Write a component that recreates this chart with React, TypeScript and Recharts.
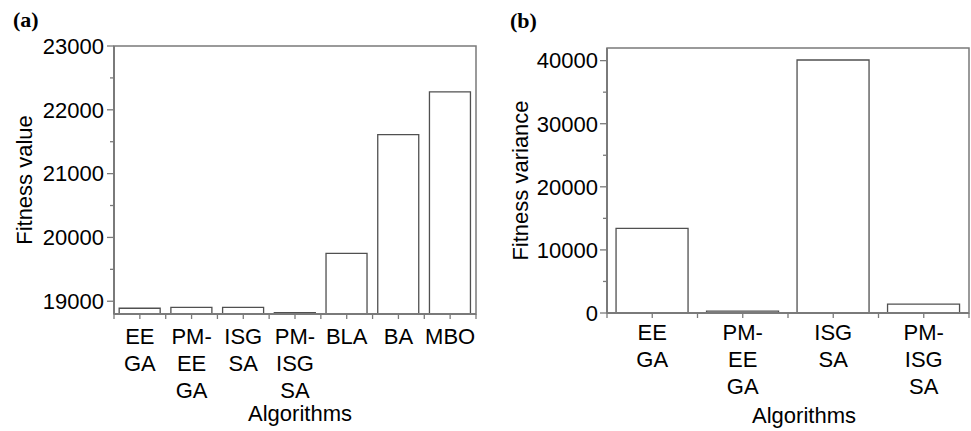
import React from 'react';
import { BarChart, Bar, XAxis, YAxis, ReferenceArea } from 'recharts';

// ---- data ----
const categoriesA = ['EEGA', 'PM-EEGA', 'ISGSA', 'PM-ISGSA', 'BLA', 'BA', 'MBO'];
const tickLinesA = [['EE', 'GA'], ['PM-', 'EE', 'GA'], ['ISG', 'SA'], ['PM-', 'ISG', 'SA'], ['BLA'], ['BA'], ['MBO']];
const fitnessValue = [18890, 18905, 18905, 18820, 19750, 21610, 22280];
const yTicksA = [19000, 19500, 20000, 20500, 21000, 21500, 22000, 22500, 23000];
const yDomainA = [18800, 23000];

const categoriesB = ['EEGA', 'PM-EEGA', 'ISGSA', 'PM-ISGSA'];
const tickLinesB = [['EE', 'GA'], ['PM-', 'EE', 'GA'], ['ISG', 'SA'], ['PM-', 'ISG', 'SA']];
const fitnessVariance = [13400, 300, 40100, 1400];
const yTicksB = [0, 5000, 10000, 15000, 20000, 25000, 30000, 35000, 40000];
const yDomainB = [0, 42000];

const dataA = categoriesA.map((c, i) => ({ name: c, value: fitnessValue[i] }));
const dataB = categoriesB.map((c, i) => ({ name: c, value: fitnessVariance[i] }));

// ---- styles ----
const FONT = '"Liberation Sans", Arial, sans-serif';
const TEXT = '#000';
const AXIS = '#7a7a7a';
const BAR_STROKE = '#505050';

const YTick = (props: any) => {
  const { x, y, payload, major, gap } = props;
  const isMajor = payload.value % major === 0;
  return (
    <g>
      <line x1={x} y1={y} x2={x - (isMajor ? 7 : 4)} y2={y} stroke={AXIS} strokeWidth={1.3} />
      {isMajor && (
        <text x={x - gap} y={y} dy="0.355em" textAnchor="end" fontSize={22} fontFamily={FONT} fill={TEXT}>
          {payload.value}
        </text>
      )}
    </g>
  );
};

const XTick = (props: any) => {
  const { x, y, payload, cats, lines, first, spacing, count } = props;
  const idx = cats.indexOf(payload.value);
  const half = payload.offset ?? 0;
  const ls: string[] = lines[idx] || [];
  return (
    <g>
      <line x1={x} y1={y} x2={x} y2={y + 5} stroke={AXIS} strokeWidth={1.3} />
      <line x1={x - half} y1={y} x2={x - half} y2={y + 5} stroke={AXIS} strokeWidth={1.3} />
      {idx === count - 1 && <line x1={x + half} y1={y} x2={x + half} y2={y + 5} stroke={AXIS} strokeWidth={1.3} />}
      <text x={x} y={y + first} textAnchor="middle" fontSize={22} fontFamily={FONT} fill={TEXT}>
        {ls.map((l, i) => (
          <tspan key={i} x={x} dy={i === 0 ? 0 : spacing}>
            {l}
          </tspan>
        ))}
      </text>
    </g>
  );
};

const YTitle = (props: any) => {
  const { viewBox, text, cx } = props;
  const x = viewBox.x + cx;
  const y = viewBox.y + viewBox.height / 2;
  return (
    <text x={x} y={y} dy="0.355em" transform={`rotate(-90, ${x}, ${y})`} textAnchor="middle" fontSize={22} fontFamily={FONT} fill={TEXT}>
      {text}
    </text>
  );
};

const XTitle = (props: any) => {
  const { viewBox, text, dx, base } = props;
  const x = viewBox.x + viewBox.width / 2 + dx;
  const y = viewBox.y + base;
  return (
    <text x={x} y={y} textAnchor="middle" fontSize={22} fontFamily={FONT} fill={TEXT}>
      {text}
    </text>
  );
};

const panelLabel: React.CSSProperties = {
  position: 'absolute',
  fontFamily: '"Liberation Serif", "Times New Roman", serif',
  fontWeight: 'bold',
  fontSize: 22,
  color: '#000',
  lineHeight: '22px',
};

export default function App() {
  return (
    <div style={{ position: 'absolute', left: 0, top: 0, width: 971, height: 431, background: '#fff', overflow: 'hidden' }}>
      <div style={{ ...panelLabel, left: 13, top: 9 }}>(a)</div>
      <div style={{ ...panelLabel, left: 510, top: 10 }}>(b)</div>

      <div style={{ position: 'absolute', left: 0, top: 0 }}>
        <BarChart width={490} height={431} data={dataA} margin={{ top: 46, right: 14, left: 0, bottom: 0 }} barCategoryGap="10%">
          <XAxis
            dataKey="name"
            height={117}
            interval={0}
            tickSize={0}
            tickMargin={0}
            tickLine={false}
            axisLine={{ stroke: AXIS, strokeWidth: 2 }}
            tick={(p: any) => <XTick {...p} cats={categoriesA} lines={tickLinesA} first={30} spacing={27} count={categoriesA.length} />}
            label={<XTitle text="Algorithms" dx={5} base={107} />}
          />
          <YAxis
            type="number"
            width={114}
            domain={yDomainA}
            ticks={yTicksA}
            interval={0}
            allowDataOverflow
            tickSize={0}
            tickMargin={0}
            tickLine={false}
            axisLine={{ stroke: AXIS, strokeWidth: 2 }}
            tick={(p: any) => <YTick {...p} major={1000} gap={10} />}
            label={<YTitle text="Fitness value" cx={24} />}
          />
          <ReferenceArea y1={yDomainA[0]} y2={yDomainA[1]} fill="none" stroke={AXIS} strokeWidth={1.5} />
          <Bar dataKey="value" fill="#fff" stroke={BAR_STROKE} strokeWidth={1.3} isAnimationActive={false} />
        </BarChart>
      </div>

      <div style={{ position: 'absolute', left: 490, top: 0 }}>
        <BarChart width={481} height={431} data={dataB} margin={{ top: 48, right: 2, left: 0, bottom: 0 }} barCategoryGap="10%">
          <XAxis
            dataKey="name"
            height={118}
            interval={0}
            tickSize={0}
            tickMargin={0}
            tickLine={false}
            axisLine={{ stroke: AXIS, strokeWidth: 2 }}
            tick={(p: any) => <XTick {...p} cats={categoriesB} lines={tickLinesB} first={27} spacing={27} count={categoriesB.length} />}
            label={<XTitle text="Algorithms" dx={16} base={110} />}
          />
          <YAxis
            type="number"
            width={117}
            domain={yDomainB}
            ticks={yTicksB}
            interval={0}
            allowDataOverflow
            tickSize={0}
            tickMargin={0}
            tickLine={false}
            axisLine={{ stroke: AXIS, strokeWidth: 2 }}
            tick={(p: any) => <YTick {...p} major={10000} gap={9} />}
            label={<YTitle text="Fitness variance" cx={30} />}
          />
          <ReferenceArea y1={yDomainB[0]} y2={yDomainB[1]} fill="none" stroke={AXIS} strokeWidth={1.5} />
          <Bar dataKey="value" fill="#fff" stroke={BAR_STROKE} strokeWidth={1.3} isAnimationActive={false} />
        </BarChart>
      </div>
    </div>
  );
}
